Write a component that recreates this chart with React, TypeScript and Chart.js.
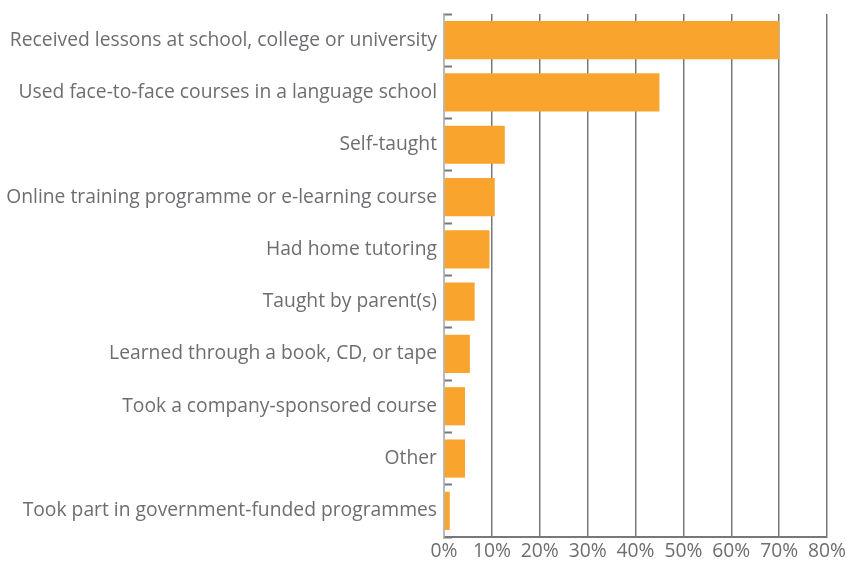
import React, { useEffect, useRef } from "react";
import { Chart, registerables } from "chart.js";

Chart.register(...registerables);

const categories: string[] = [
  "Received lessons at school, college or university",
  "Used face-to-face courses in a language school",
  "Self-taught",
  "Online training programme or e-learning course",
  "Had home tutoring",
  "Taught by parent(s)",
  "Learned through a book, CD, or tape",
  "Took a company-sponsored course",
  "Other",
  "Took part in government-funded programmes",
];

const values: number[] = [70, 45, 12.7, 10.6, 9.5, 6.4, 5.4, 4.4, 4.4, 1.2];

const xTicks: number[] = [0, 10, 20, 30, 40, 50, 60, 70, 80];

const FONT = "'Open Sans', sans-serif";
const TEXT = "#6d6e71";
const BAR = "#F9A42D";

export default function App() {
  const ref = useRef<HTMLCanvasElement | null>(null);

  useEffect(() => {
    document.body.style.margin = "0";
    if (!ref.current) return;
    const chart = new Chart(ref.current, {
      type: "bar",
      data: {
        labels: categories,
        datasets: [
          {
            data: values,
            backgroundColor: BAR,
            borderWidth: 0,
            categoryPercentage: 1,
            barPercentage: 0.73,
          },
        ],
      },
      options: {
        indexAxis: "y",
        animation: false,
        responsive: false,
        maintainAspectRatio: false,
        layout: { padding: { top: 14, right: 19, left: 0, bottom: 0 } },
        plugins: { legend: { display: false }, tooltip: { enabled: false } },
        scales: {
          x: {
            min: xTicks[0],
            max: xTicks[xTicks.length - 1],
            afterBuildTicks: (scale: any) => {
              scale.ticks = xTicks.map((v) => ({ value: v }));
            },
            afterFit: (scale: any) => {
              scale.height = 24;
              scale.paddingLeft = 0;
              scale.paddingRight = 0;
            },
            ticks: {
              callback: (v: any) => v + "%",
              color: TEXT,
              font: { family: FONT, size: 19.3 },
              padding: 3,
              maxRotation: 0,
            },
            grid: {
              color: "#77787b",
              lineWidth: 1.5,
              drawTicks: false,
            },
            border: { color: "#77787b", width: 2 },
          },
          y: {
            afterFit: (scale: any) => {
              scale.width = 444;
              scale.paddingTop = 0;
              scale.paddingBottom = 0;
            },
            ticks: {
              color: TEXT,
              font: { family: FONT, size: 19.3 },
              padding: 15,
            },
            grid: {
              offset: true,
              drawOnChartArea: false,
              drawTicks: true,
              tickLength: -8,
              tickWidth: 2,
              tickColor: "#77787b",
            },
            border: { color: "#b9babc", width: 1.5 },
          },
        },
      },
    });
    return () => chart.destroy();
  }, []);

  return (
    <div style={{ position: "fixed", left: 0, top: 0, width: 846, height: 561 }}>
      <canvas ref={ref} width={846} height={561} style={{ width: 846, height: 561 }} />
    </div>
  );
}
